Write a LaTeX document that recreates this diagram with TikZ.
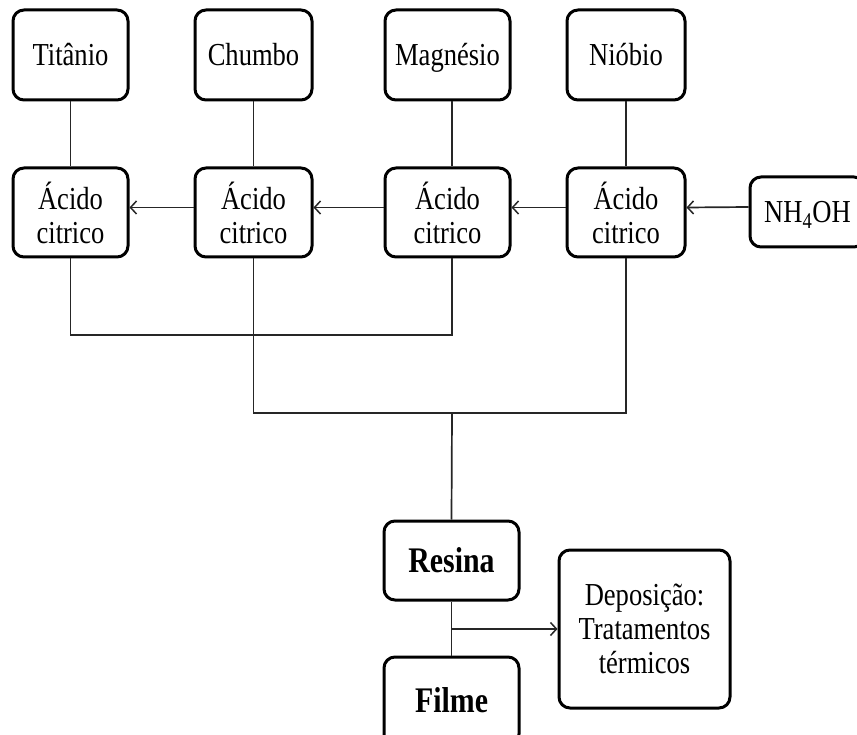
\documentclass[tikz,border=0pt]{standalone}
\usepackage{fontspec}
\setmainfont{Liberation Serif}[FakeStretch=0.83]
\usetikzlibrary{arrows.meta,calc}
\begin{document}
\begin{tikzpicture}[x=1pt,y=-1pt,
  box/.style={draw=black,line width=3pt,rounded corners=11pt,fill=white,
    align=center,inner sep=0pt,font=\fontsize{32}{34}\selectfont},
  onebox/.style={box,text height=21pt,text depth=0pt},
  boldbox/.style={box,text height=23pt,text depth=0pt,font=\fontsize{36}{40}\selectfont\bfseries},
  link/.style={draw=black!85,line width=1.7pt},
  arr/.style={link,-{Straight Barb[length=6pt,width=13pt,line width=1.5pt]}}]
\useasboundingbox (0,0) rectangle (857,735);

% metal sources
\node[onebox,minimum width=115pt,minimum height=90pt] (tit) at (70.5,55) {Titânio};
\node[onebox,minimum width=117pt,minimum height=90pt] (chu) at (253.5,55) {Chumbo};
\node[onebox,minimum width=125pt,minimum height=90pt] (mag) at (447.5,55) {Magnésio};
\node[onebox,minimum width=118pt,minimum height=90pt] (nio) at (626,55) {Nióbio};

% citric acid solutions
\node[box,minimum width=115pt,minimum height=89pt] (atit) at (70.5,212.5) {Ácido\\citrico};
\node[box,minimum width=117pt,minimum height=89pt] (achu) at (253.5,212.5) {Ácido\\citrico};
\node[box,minimum width=125pt,minimum height=89pt] (amag) at (447.5,212.5) {Ácido\\citrico};
\node[box,minimum width=118pt,minimum height=89pt] (anio) at (626,212.5) {Ácido\\citrico};
\node[onebox,minimum width=115pt,minimum height=70pt] (nh) at (807.5,212) {NH\textsubscript{4}OH};

% resin, film and processing
\node[boldbox,minimum width=135pt,minimum height=79pt] (res) at (451.5,560.5) {Resina};
\node[boldbox,minimum width=135pt,minimum height=88pt] (fil) at (451.5,701) {Filme};
\node[box,minimum width=171pt,minimum height=158pt] (dep) at (644.5,629) {Deposição:\\Tratamentos\\térmicos};

% sources into acids
\draw[link] (tit) -- (atit);
\draw[link] (chu) -- (achu);
\draw[link] ([xshift=4.5pt]mag.south) -- ([xshift=4.5pt]amag.north);
\draw[link] (nio) -- (anio);

% NH4OH chain
\draw[arr] ([yshift=5pt]nh.west) -- ([yshift=5pt]anio.east);
\draw[arr] ([yshift=5pt]anio.west) -- ([yshift=5pt]amag.east);
\draw[arr] ([yshift=5pt]amag.west) -- ([yshift=5pt]achu.east);
\draw[arr] ([yshift=5pt]achu.west) -- ([yshift=5pt]atit.east);

% collecting lines
\coordinate (b1) at (452,335);
\coordinate (b2) at (452,413);
\coordinate (b3) at (452,629);
\draw[link] (atit.south) |- (b1) -- ([xshift=4.5pt]amag.south);
\draw[link] (achu.south) |- (b2) -| (anio.south);
\draw[link] (b2) -- (res.north);
\draw[link] (res.south) -- (fil.north);
\draw[arr] (b3) -- (dep.west);
\end{tikzpicture}
\end{document}
